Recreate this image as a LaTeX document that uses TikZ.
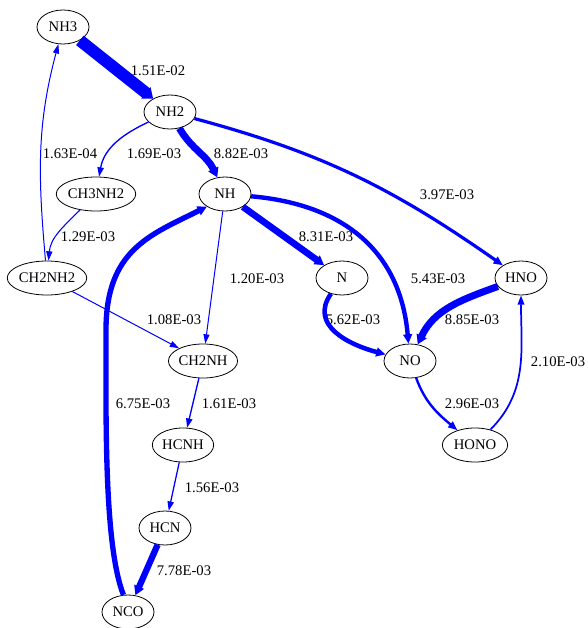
\documentclass[tikz,border=0pt]{standalone}
\usepackage{fontspec}
\setmainfont{Liberation Serif}
\usepackage{tikz}
\usetikzlibrary{shapes.geometric,arrows.meta}

\tikzset{
  species/.style={draw, ellipse, line width=0.6pt, minimum width=39pt, minimum height=25.5pt, inner sep=0pt, font=\fontsize{11}{13}\selectfont},
  rate/.style={font=\fontsize{11}{13}\selectfont},
  flux/.style={draw=blue, line width=#1pt, -{Triangle[length=7pt, width=4pt 0.75]}}
}

\begin{document}
\begin{tikzpicture}[x=0.75pt,y=-0.75pt]

	\useasboundingbox (0,0) rectangle (587,628);

	\node[species] (nh3) at (63,27)  {NH3};
	\node[species] (nh2) at (170,112)  {NH2};

	\node[species] (ch3nh2) at (96,194)  {CH3NH2};
	\node[species] (nh) at (225,194)  {NH};

	\node[species] (ch2nh2) at (47,278)  {CH2NH2};
	\node[species] (n) at (342,278)  {N};
	\node[species] (hno) at (521,278)  {HNO};

	\node[species, minimum width=49pt] (ch2nh) at (203,361)  {CH2NH};
	\node[species] (no) at (410,361)  {NO};

	\node[species, minimum width=46pt] (hcnh) at (183,445)  {HCNH};
	\node[species, minimum width=49pt] (hono) at (475,445)  {HONO};

	\node[species] (hcn) at (165,528)  {HCN};
	\node[species] (nco) at (128,612)  {NCO};

	% rates
	\node[rate] (r1) at (158,71)  {1.51E-02};
	\node[rate] (r2) at (241,154)  {8.82E-03};
	\node[rate] (r3) at (154,154)  {1.69E-03};
	\node[rate] (r4) at (70,154)  {1.63E-04};
	\node[rate] (r5) at (447,195)  {3.97E-03};
	\node[rate] (r6) at (88,237)  {1.29E-03};
	\node[rate] (r7) at (326,237)  {8.31E-03};
	\node[rate] (r8) at (257,279)  {1.20E-03};
	\node[rate] (r9) at (438,279)  {5.43E-03};
	\node[rate] (r10) at (174,320)  {1.08E-03};
	\node[rate] (r11) at (353,320)  {5.62E-03};
	\node[rate] (r12) at (472,320)  {8.85E-03};
	\node[rate] (r13) at (558,362)  {2.10E-03};
	\node[rate] (r14) at (143,404)  {6.75E-03};
	\node[rate] (r15) at (229,404)  {1.61E-03};
	\node[rate] (r16) at (472,404)  {2.96E-03};
	\node[rate] (r17) at (212,488)  {1.56E-03};
	\node[rate] (r18) at (184,571)  {7.78E-03};

	\draw (nh3) edge[flux=9] (nh2)
	(nh2) edge[flux=5.3, out=-60, in=115] (nh)
	(nh2) edge[flux=1, out=205, in=80] (ch3nh2)
	(nh2) edge[flux=2.4, out=-15, in=145] (hno)
	(ch2nh2) edge[flux=0.75, out=95, in=-105] (nh3)
	(ch3nh2) edge[flux=0.8, out=225, in=85] (ch2nh2)
	(nh) edge[flux=0.75] (ch2nh)
	(ch2nh2) edge[flux=0.75] (ch2nh)
	(nh) edge[flux=5] (n)
	(nh) edge[flux=3.3, out=-5, in=95, looseness=1.1] (no)
	(n) edge[flux=3.4, out=-125, in=165, looseness=1.2] (no)
	(hno) edge[flux=5.3, out=200, in=65] (no)
	(no) edge[flux=1.8, out=-70, in=140] (hono)
	(hono) edge[flux=1.3, out=45, in=-90] (hno)
	(ch2nh) edge[flux=1] (hcnh)
	(hcnh) edge[flux=0.95] (hcn)
	(hcn) edge[flux=4.7] (nco);

	\draw[flux=4] (nco.105) .. controls (104,545) and (106,420) .. (106,330)
	  .. controls (106,250) and (150,235) .. (nh.215);

\end{tikzpicture}
\end{document}
